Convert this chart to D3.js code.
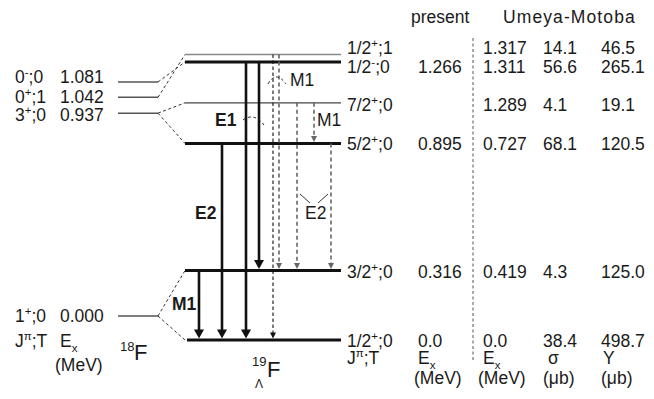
<!DOCTYPE html>
<html>
<head>
<meta charset="utf-8">
<script src="https://cdn.jsdelivr.net/npm/d3@7"></script>
<style>
  body { margin: 0; background: #fff; }
  text { font-family: "Liberation Sans", Arial, Helvetica, sans-serif; fill: #1a1a1a; }
</style>
</head>
<body>
<div id="container"></div>
<script>
// ---- data ----
// 19_Lambda F levels, bottom to top ("^x" = superscript, "_x" = subscript)
const f19Levels = ['1/2^+;0', '3/2^+;0', '5/2^+;0', '7/2^+;0', '1/2^-;0', '1/2^+;1'];
// energy (MeV) where each line is drawn; the top three are spread apart a little, as in the figure
const f19DrawE = [0, 0.316, 0.895, 1.08, 1.266, 1.3];
const f19Thick = [true, true, true, false, true, false];
const presentEx = ['0.0', '0.316', '0.895', '', '1.266', ''];
const umeyaEx = ['0.0', '0.419', '0.727', '1.289', '1.311', '1.317'];
const umeyaSigma = ['38.4', '4.3', '68.1', '4.1', '56.6', '14.1'];
const umeyaY = ['498.7', '125.0', '120.5', '19.1', '265.1', '46.5'];

// 18F core levels, bottom to top
const f18Levels = ['1^+;0', '3^+;0', '0^+;1', '0^-;0'];
const f18Ex = ['0.000', '0.937', '1.042', '1.081'];
const f18DrawE = [0, 0.937, 1.01, 1.081];

// core level -> hypernuclear level (indices)
const parentage = [[0, 0], [0, 1], [1, 2], [1, 3], [2, 5], [3, 4]];

// gamma transitions between 19F levels (indices); kind: solid / dashed / gray
const transitions = [
  { from: 1, to: 0, kind: 'solid' },
  { from: 2, to: 0, kind: 'solid' },
  { from: 4, to: 0, kind: 'solid' },
  { from: 4, to: 1, kind: 'solid' },
  { from: 5, to: 0, kind: 'dashed' },
  { from: 5, to: 1, kind: 'gray' },
  { from: 3, to: 1, kind: 'gray' },
  { from: 3, to: 2, kind: 'gray' },
  { from: 2, to: 1, kind: 'gray' },
];

// ---- layout ----
const W = 654, H = 399;
const fs = 17.5;
const f19x = [185, 341];
const f18x = [118, 158];
const arrowX = [199, 222, 246, 259, 273, 279, 297, 314, 331];
const colX = { jt: 347, present: 418, divider: 473, ex: 483, sigma: 543, y: 601 };
const rowNudge = [0, 0, 0, 1, 4, -8];
const leftNudge = [0, 2, 0, -5];

const y19 = d3.scaleLinear().domain([0, 1.266]).range([340, 62]);
const y18 = d3.scaleLinear().domain([0, 1.081]).range([316, 82]);

const svg = d3.select('#container').append('svg')
  .attr('width', W).attr('height', H);

function rich(sel, str, small) {
  const parts = [];
  let buf = '';
  for (let i = 0; i < str.length; i++) {
    const c = str[i];
    if (c === '^' || c === '_') {
      if (buf) parts.push({ t: buf, k: 'n' });
      buf = '';
      parts.push({ t: str[i + 1], k: c });
      i++;
    } else buf += c;
  }
  if (buf) parts.push({ t: buf, k: 'n' });
  let cur = 0;
  parts.forEach((p) => {
    const target = p.k === '^' ? -7 : p.k === '_' ? 4.5 : 0;
    const ts = sel.append('tspan').attr('dy', target - cur).text(p.t);
    if (p.k !== 'n') ts.style('font-size', (small || 11.5) + 'px');
    cur = target;
  });
  return sel;
}

function label(x, y, str, opts = {}) {
  const t = svg.append('text').attr('x', x).attr('y', y)
    .style('font-size', (opts.size || fs) + 'px');
  if (opts.bold) t.style('font-weight', 'bold');
  if (opts.anchor) t.attr('text-anchor', opts.anchor);
  rich(t, str, opts.small);
  return t;
}

// ---- 18F levels ----
svg.selectAll('.l18').data(f18DrawE).enter().append('line')
  .attr('x1', f18x[0]).attr('x2', f18x[1])
  .attr('y1', (d) => y18(d)).attr('y2', (d) => y18(d))
  .attr('stroke', '#555').attr('stroke-width', 1.5);

f18Levels.forEach((s, i) => {
  const by = y18(f18DrawE[i]) + 6 + leftNudge[i];
  label(15, by, s);
  label(60, by, f18Ex[i]);
});
label(15, 347, 'J^π;T');
label(60, 347, 'E_x');
label(55, 371, '(MeV)');
label(120, 351, '18', { size: 13 });
label(134, 360, 'F', { size: 22 });

// ---- connectors ----
svg.selectAll('.conn').data(parentage).enter().append('line')
  .attr('x1', f18x[1]).attr('y1', (d) => y18(f18DrawE[d[0]]))
  .attr('x2', f19x[0]).attr('y2', (d) => y19(f19DrawE[d[1]]))
  .attr('stroke', '#333').attr('stroke-width', 1)
  .attr('stroke-dasharray', '3,2.5');

// ---- 19F levels ----
svg.selectAll('.l19').data(f19DrawE).enter().append('line')
  .attr('x1', (d, i) => (i === 0 ? f19x[0] + 2 : f19x[0])).attr('x2', f19x[1])
  .attr('y1', (d) => y19(d)).attr('y2', (d) => y19(d))
  .attr('stroke', (d, i) => (f19Thick[i] ? '#111' : i === 5 ? '#888' : '#444'))
  .attr('stroke-width', (d, i) => (f19Thick[i] ? 3 : i === 5 ? 1.6 : 1.3));

// ---- transitions ----
transitions.forEach((t, i) => {
  const x = arrowX[i];
  const y0 = y19(f19DrawE[t.from]);
  const y1 = y19(f19DrawE[t.to]) - 1.5;
  const big = t.kind === 'solid';
  const hw = big ? 5 : 3;
  const hh = big ? 9 : 6;
  const col = t.kind === 'gray' ? '#666' : '#111';
  const ln = svg.append('line')
    .attr('x1', x).attr('x2', x).attr('y1', y0).attr('y2', y1 - hh + 1)
    .attr('stroke', col).attr('stroke-width', big ? 2.6 : t.kind === 'gray' ? 1.6 : 1.1);
  if (!big) ln.attr('stroke-dasharray', t.kind === 'gray' ? '4,3' : '3.5,2.5');
  svg.append('path')
    .attr('d', `M${x - hw},${y1 - hh}L${x + hw},${y1 - hh}L${x},${y1}Z`)
    .attr('fill', col);
});

// multipolarity labels and pointers
label(195, 219, 'E2', { bold: true });
label(215, 126, 'E1', { bold: true });
label(172, 310, 'M1', { bold: true });
label(290, 86, 'M1');
label(317, 126, 'M1');
label(305, 219, 'E2');
svg.append('path').attr('d', 'M243,120Q254,112 264,125')
  .attr('fill', 'none').attr('stroke', '#222').attr('stroke-width', 1).attr('stroke-dasharray', '3,2.5');
svg.append('path').attr('d', 'M268,84Q276,70 286,84')
  .attr('fill', 'none').attr('stroke', '#222').attr('stroke-width', 1).attr('stroke-dasharray', '3,2.5');
svg.append('path').attr('d', 'M300,194L310,203M328,194L318,203')
  .attr('fill', 'none').attr('stroke', '#333').attr('stroke-width', 1);

label(252, 366, '19', { size: 13 });
label(255, 388, 'Λ', { size: 12 });
label(267, 377, 'F', { size: 22 });

// ---- table ----
label(411, 23, 'present');
label(503, 23, 'Umeya-Motoba').style('letter-spacing', '1.1px');

svg.append('line')
  .attr('x1', colX.divider).attr('x2', colX.divider).attr('y1', 38).attr('y2', 362)
  .attr('stroke', '#555').attr('stroke-width', 1).attr('stroke-dasharray', '3,2.5');

f19Levels.forEach((s, i) => {
  const by = y19(f19DrawE[i]) + 7 + rowNudge[i];
  label(colX.jt, by, s);
  if (presentEx[i]) label(colX.present, by, presentEx[i]);
  label(colX.ex, by, umeyaEx[i]);
  label(colX.sigma, by, umeyaSigma[i]);
  label(colX.y, by, umeyaY[i]);
});

label(colX.jt, 364, 'J^π;T');
label(colX.present, 364, 'E_x');
label(colX.ex, 364, 'E_x');
label(colX.sigma + 5, 364, 'σ');
label(colX.y + 2, 364, 'Y');
label(colX.present - 4, 384, '(MeV)');
label(colX.ex - 5, 384, '(MeV)');
label(colX.sigma, 384, '(μb)');
label(colX.y, 384, '(μb)');
</script>
</body>
</html>
